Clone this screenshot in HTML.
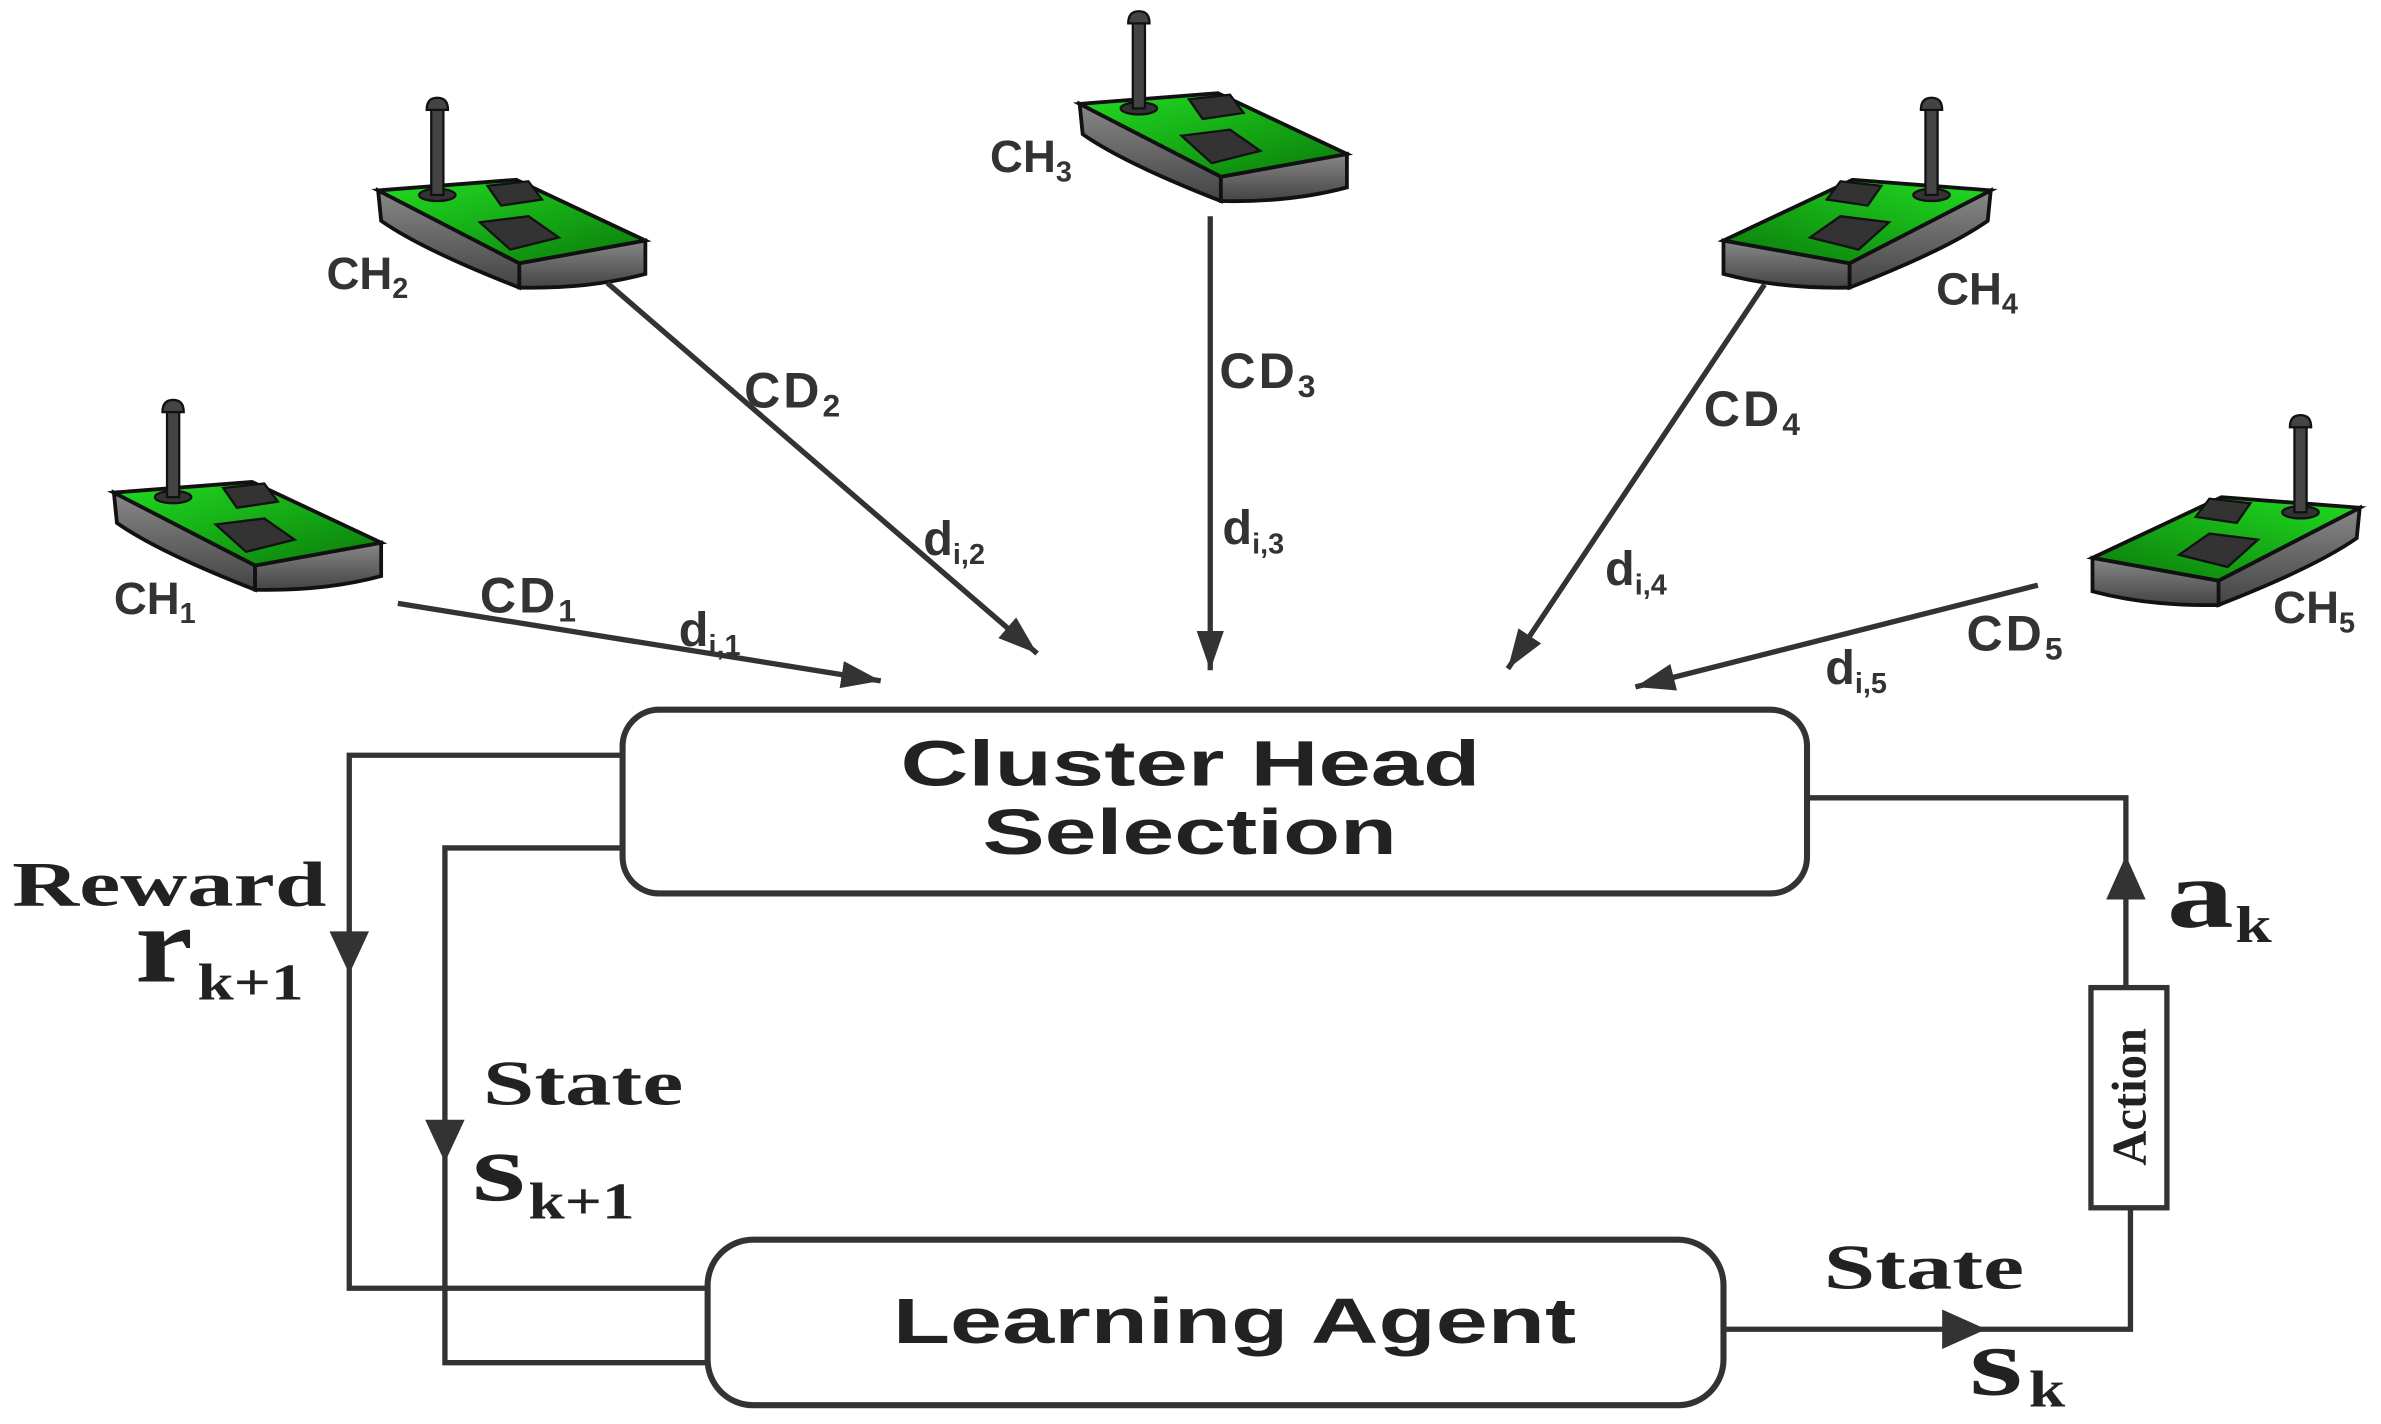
<!DOCTYPE html>
<html><head><meta charset="utf-8"><style>html,body{margin:0;padding:0;background:#fff}svg{display:block}</style></head>
<body>
<svg width="2381" height="1424" viewBox="0 0 1568 937" xmlns="http://www.w3.org/2000/svg">
<defs>
<marker id="a" viewBox="0 0 26 18" refX="26" refY="9" markerWidth="26" markerHeight="18" orient="auto" markerUnits="userSpaceOnUse"><path d="M0,0 L26,9 L0,18 Z" fill="#333"/></marker>
<linearGradient id="g" x1="0" y1="0" x2="1" y2="1"><stop offset="0" stop-color="#22dd22"/><stop offset="1" stop-color="#0a7a0a"/></linearGradient>
<linearGradient id="s" x1="0" y1="0" x2="0" y2="1"><stop offset="0" stop-color="#888"/><stop offset="1" stop-color="#444"/></linearGradient>
<g id="node">
<path d="M1,61 L3,81 Q30,100 94,125 L94,109 Z" fill="url(#s)" stroke="#111" stroke-width="2.5"/>
<path d="M94,109 L177,94 L177,116 Q140,126 94,125 Z" fill="url(#s)" stroke="#111" stroke-width="2.5"/>
<path d="M1,61 L92,54 L177,94 L94,109 Z" fill="url(#g)" stroke="#111" stroke-width="2.5"/>
<path d="M73,58 L100,55 L109,67 L82,71 Z" fill="#333" stroke="#111" stroke-width="1.5"/>
<path d="M68,82 L100,78 L120,92 L88,100 Z" fill="#333" stroke="#111" stroke-width="1.5"/>
<ellipse cx="40" cy="64" rx="12" ry="4" fill="#333" stroke="#111" stroke-width="1.5"/>
<rect x="36" y="6" width="8" height="58" fill="#444" stroke="#111" stroke-width="1.5"/>
<path d="M33,8 Q33,0 40,0 Q47,0 47,8 Z" fill="#444" stroke="#111" stroke-width="1.5"/>
</g>
</defs>
<use href="#node" transform="translate(74,263)"/>
<use href="#node" transform="translate(248,64)"/>
<use href="#node" transform="translate(710,7)"/>
<use href="#node" transform="translate(1312,64) scale(-1,1)"/>
<use href="#node" transform="translate(1555,273) scale(-1,1)"/>

<g font-family="Liberation Sans, sans-serif" font-weight="bold" fill="#333" font-size="30">
<text x="75" y="404">CH<tspan font-size="19" dy="6">1</tspan></text>
<text x="215" y="190">CH<tspan font-size="19" dy="6">2</tspan></text>
<text x="652" y="113">CH<tspan font-size="19" dy="6">3</tspan></text>
<text x="1275" y="200">CH<tspan font-size="19" dy="6">4</tspan></text>
<text x="1497" y="410">CH<tspan font-size="19" dy="6">5</tspan></text>
<g font-size="33" letter-spacing="2">
<text x="316" y="403">CD<tspan font-size="21" dy="6">1</tspan></text>
<text x="490" y="268">CD<tspan font-size="21" dy="6">2</tspan></text>
<text x="803" y="255">CD<tspan font-size="21" dy="6">3</tspan></text>
<text x="1122" y="280">CD<tspan font-size="21" dy="6">4</tspan></text>
<text x="1295" y="428">CD<tspan font-size="21" dy="6">5</tspan></text>
</g>
<g font-size="32">
<text x="447" y="425">d<tspan font-size="19" dy="6">i,1</tspan></text>
<text x="608" y="365">d<tspan font-size="19" dy="6">i,2</tspan></text>
<text x="805" y="358">d<tspan font-size="19" dy="6">i,3</tspan></text>
<text x="1057" y="385">d<tspan font-size="19" dy="6">i,4</tspan></text>
<text x="1202" y="450">d<tspan font-size="19" dy="6">i,5</tspan></text>
</g>
</g>

<g stroke="#333" stroke-width="3.5" fill="none">
<line x1="262" y1="397" x2="580" y2="448" marker-end="url(#a)"/>
<line x1="400" y1="186" x2="683" y2="430" marker-end="url(#a)"/>
<line x1="797" y1="142" x2="797" y2="441" marker-end="url(#a)"/>
<line x1="1162" y1="187" x2="993" y2="440" marker-end="url(#a)"/>
<line x1="1342" y1="385" x2="1077" y2="452" marker-end="url(#a)"/>
<polyline points="410,497 230,497 230,848 466,848"/>
<polyline points="410,558 293,558 293,897 466,897"/>
<polyline points="1135,875 1403,875 1403,795"/>
<polyline points="1400,650 1400,525 1190,525"/>
</g>
<g fill="#333">
<path d="M217,613 L243,613 L230,641 Z"/>
<path d="M280,737 L306,737 L293,765 Z"/>
<path d="M1279,862 L1279,888 L1308,875 Z"/>
<path d="M1387,592 L1413,592 L1400,563 Z"/>
</g>
<rect x="410" y="467" width="780" height="121" rx="24" fill="#fff" stroke="#333" stroke-width="4"/>
<rect x="466" y="816" width="669" height="109" rx="30" fill="#fff" stroke="#333" stroke-width="4"/>
<rect x="1377" y="650" width="50" height="145" fill="#fff" stroke="#333" stroke-width="3.5"/>

<g font-family="Liberation Sans, sans-serif" font-weight="bold" fill="#222" font-size="42">
<text x="593" y="517" textLength="382" lengthAdjust="spacingAndGlyphs">Cluster Head</text>
<text x="647" y="562" textLength="273" lengthAdjust="spacingAndGlyphs">Selection</text>
<text x="588" y="884" textLength="450" lengthAdjust="spacingAndGlyphs">Learning Agent</text>
</g>
<g font-family="Liberation Serif, serif" font-weight="bold" fill="#222">
<text x="8" y="596" font-size="42" textLength="207" lengthAdjust="spacingAndGlyphs">Reward</text>
<text x="89" y="646" font-size="72" textLength="38" lengthAdjust="spacingAndGlyphs">r</text>
<text x="130" y="658" font-size="34" textLength="70" lengthAdjust="spacingAndGlyphs">k+1</text>
<text x="318" y="727" font-size="42" textLength="132" lengthAdjust="spacingAndGlyphs">State</text>
<text x="311" y="790" font-size="64" textLength="35" lengthAdjust="spacingAndGlyphs">s</text>
<text x="348" y="802" font-size="34" textLength="70" lengthAdjust="spacingAndGlyphs">k+1</text>
<text x="1201" y="848" font-size="42" textLength="132" lengthAdjust="spacingAndGlyphs">State</text>
<text x="1297" y="918" font-size="64" textLength="35" lengthAdjust="spacingAndGlyphs">s</text>
<text x="1336" y="926" font-size="34" textLength="24" lengthAdjust="spacingAndGlyphs">k</text>
<text x="1427" y="610" font-size="64" textLength="44" lengthAdjust="spacingAndGlyphs">a</text>
<text x="1472" y="620" font-size="34" textLength="24" lengthAdjust="spacingAndGlyphs">k</text>
<text transform="translate(1413,722) rotate(-90)" font-size="32" text-anchor="middle">Action</text>
</g>
</svg>
</body></html>
